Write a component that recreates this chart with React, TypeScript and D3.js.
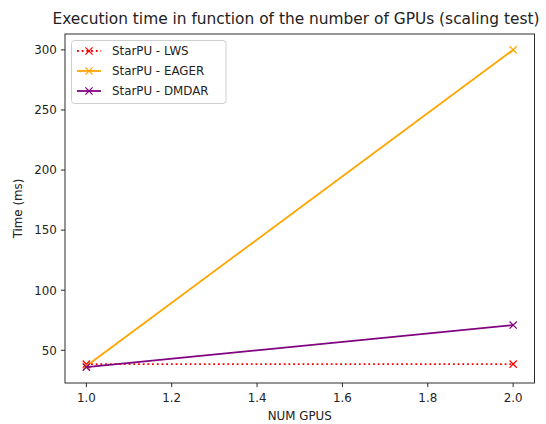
import React from "react";
import * as d3 from "d3";

const numGpus = [1, 2];
const lwsTimes = [38.5, 38.5];
const eagerTimes = [37, 300];
const dmdarTimes = [36, 71];
const xTicks = [1.0, 1.2, 1.4, 1.6, 1.8, 2.0];
const yTicks = [50, 100, 150, 200, 250, 300];

const seriesNames = ["StarPU - LWS", "StarPU - EAGER", "StarPU - DMDAR"];
const seriesColors = ["red", "orange", "purple"];
const seriesDash = ["1.8,2.9", null, null];

export default function App() {
  const W = 546, H = 424;
  const left = 65, right = 534.5, top = 34, bottom = 383;
  const allY = [...lwsTimes, ...eagerTimes, ...dmdarTimes];
  const yMin = d3.min(allY)!, yMax = d3.max(allY)!;
  const yPad = (yMax - yMin) * 0.05;
  const x = d3.scaleLinear().domain([0.95, 2.05]).range([left, right]);
  const y = d3.scaleLinear().domain([yMin - yPad, yMax + yPad]).range([bottom, top]);
  const data = [lwsTimes, eagerTimes, dmdarTimes];
  const line = d3
    .line<number>()
    .x((_, i) => x(numGpus[i]))
    .y((d) => y(d));
  const font = "DejaVu Sans, sans-serif";
  const fs = 11.85;
  const marker = (cx: number, cy: number, color: string, key: string) => (
    <g key={key} stroke={color} strokeWidth={1.2}>
      <line x1={cx - 3.6} y1={cy - 3.6} x2={cx + 3.6} y2={cy + 3.6} />
      <line x1={cx - 3.6} y1={cy + 3.6} x2={cx + 3.6} y2={cy - 3.6} />
    </g>
  );
  return (
    <div style={{ position: "absolute", left: 0, top: 0 }}>
      <svg width={W} height={H} style={{ display: "block" }} fontFamily={font}>
        <rect width={W} height={H} fill="white" />
        <text x={296} y={24} fontSize={15.4} textAnchor="middle" fill="#222">
          Execution time in function of the number of GPUs (scaling test)
        </text>
        {data.map((vals, s) => (
          <g key={s}>
            <path
              d={line(vals)!}
              fill="none"
              stroke={seriesColors[s]}
              strokeWidth={1.78}
              strokeDasharray={seriesDash[s] ?? undefined}
            />
            {vals.map((v, i) => marker(x(numGpus[i]), y(v), seriesColors[s], `m${s}-${i}`))}
          </g>
        ))}
        <rect x={left} y={top} width={right - left} height={bottom - top} fill="none" stroke="#222" strokeWidth={0.95} />
        {xTicks.map((t) => (
          <g key={t}>
            <line x1={x(t)} x2={x(t)} y1={bottom} y2={bottom + 4.1} stroke="#222" strokeWidth={0.95} />
            <text x={x(t)} y={bottom + 18.5} fontSize={fs} textAnchor="middle" fill="#222">
              {t.toFixed(1)}
            </text>
          </g>
        ))}
        {yTicks.map((t) => (
          <g key={t}>
            <line x1={left - 4.1} x2={left} y1={y(t)} y2={y(t)} stroke="#222" strokeWidth={0.95} />
            <text x={left - 8.2} y={y(t) + 4.3} fontSize={fs} textAnchor="end" fill="#222">
              {t}
            </text>
          </g>
        ))}
        <text x={(left + right) / 2} y={419.5} fontSize={fs} textAnchor="middle" fill="#222">
          NUM GPUS
        </text>
        <text
          transform={`translate(22,${(top + bottom) / 2}) rotate(-90)`}
          fontSize={fs}
          textAnchor="middle"
          fill="#222"
        >
          Time (ms)
        </text>
        <g>
          <rect x={71.5} y={40.5} width={154.5} height={63} rx={3} fill="white" fillOpacity={0.8} stroke="#ccc" strokeWidth={0.95} />
          {seriesNames.map((name, s) => {
            const ry = 51 + s * 20;
            return (
              <g key={name}>
                <line
                  x1={77}
                  x2={101}
                  y1={ry}
                  y2={ry}
                  stroke={seriesColors[s]}
                  strokeWidth={1.78}
                  strokeDasharray={seriesDash[s] ?? undefined}
                />
                {marker(89, ry, seriesColors[s], `lm${s}`)}
                <text x={112} y={ry + 4.3} fontSize={fs} fill="#222">
                  {name}
                </text>
              </g>
            );
          })}
        </g>
      </svg>
    </div>
  );
}
